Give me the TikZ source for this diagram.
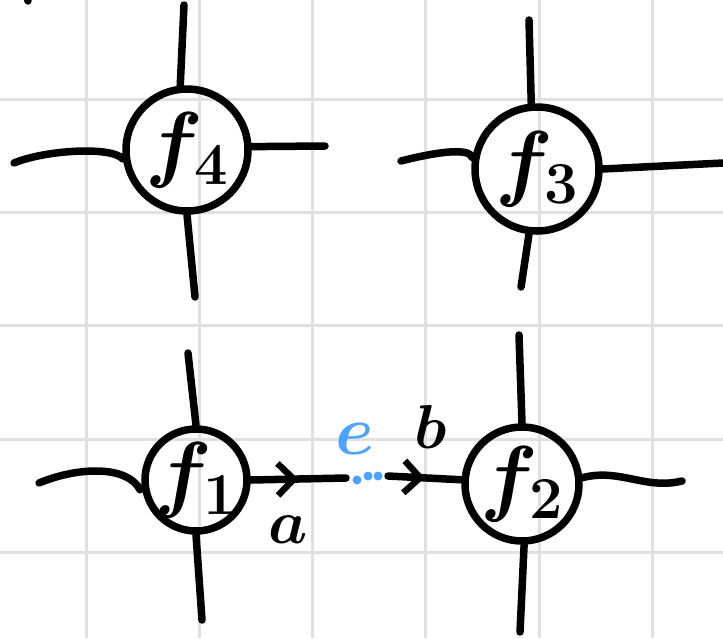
\RequirePackage{fix-cm}
\documentclass[tikz,border=0pt]{standalone}
\usepackage{xcolor}
\usepackage{amsmath, amssymb}
\usepackage{tikz}
\usetikzlibrary{arrows.meta, decorations.markings}

\definecolor{gridgray}{RGB}{224,224,224}
\definecolor{penblue}{RGB}{77,163,255}

\tikzset{
  gridline/.style={gridgray, line width=3pt},
  leg/.style={line width=7.5pt, line cap=round, line join=round},
  vertex/.style={circle, draw, line width=7.5pt, inner sep=-8pt, font=\fontsize{85}{85}\selectfont\boldmath},
  midarrow/.style={postaction={decorate}, decoration={markings, mark=at position #1 with {\arrow[line width=6.5pt]{Straight Barb[length=16pt, width=32pt]}}}},
  edgelabel/.style={font=\fontsize{62}{62}\selectfont\boldmath},
}

\begin{document}
\begin{tikzpicture}[x=1pt, y=-1pt]
\useasboundingbox (0,0) rectangle (723,638);

% Grid paper
\draw[gridline] (86.2,0) -- (86.2,638);
\draw[gridline] (199.4,0) -- (199.4,638);
\draw[gridline] (312.6,0) -- (312.6,638);
\draw[gridline] (425.8,0) -- (425.8,638);
\draw[gridline] (539,0) -- (539,638);
\draw[gridline] (652.2,0) -- (652.2,638);
\draw[gridline] (0,99.3) -- (723,99.3);
\draw[gridline] (0,212.6) -- (723,212.6);
\draw[gridline] (0,325.9) -- (723,325.9);
\draw[gridline] (0,439.2) -- (723,439.2);
\draw[gridline] (0,552.5) -- (723,552.5);

% stray pen mark
\draw[leg] (27,-4) -- (28,1);

% Tensor f4 (top left)
\node[vertex, minimum size=122pt] (f4) at (187,150) {$f_4$};
\coordinate (f4top) at (184,5);
\coordinate (f4left) at (14,163);
\coordinate (f4right) at (325,146);
\coordinate (f4bottom) at (195,297);
\draw[leg] (f4top) -- (f4.96);
\draw[leg] (f4left) .. controls (45,150) and (112,146) .. (f4.188);
\draw[leg] (f4.3) -- (f4right);
\draw[leg] (f4.south) -- (f4bottom);

% Tensor f3 (top right)
\node[vertex, minimum size=124pt] (f3) at (537,169) {$f_3$};
\coordinate (f3top) at (529,20);
\coordinate (f3left) at (401,161);
\coordinate (f3right) at (723,163);
\coordinate (f3bottom) at (521,287);
\draw[leg] (f3top) -- (f3.95);
\draw[leg] (f3left) .. controls (440,151) and (470,148) .. (f3.170);
\draw[leg] (f3.east) -- (f3right);
\draw[leg] (f3.263) -- (f3bottom);

% Tensor f1 (bottom left)
\node[vertex, minimum size=102pt] (f1) at (196,480) {$f_1$};
\coordinate (f1top) at (188,353);
\coordinate (f1left) at (39,483);
\coordinate (f1gap) at (346,478);
\coordinate (f1bottom) at (202,620);
\draw[leg] (f1top) -- (f1.north);
\draw[leg, shorten >=10pt] (f1left) .. controls (80,466) and (128,466) .. (f1.200);
\draw[leg, midarrow=0.5] (f1.east) -- (f1gap);
\draw[leg] (f1.south) -- (f1bottom);

% Tensor f2 (bottom right)
\node[vertex, minimum size=114pt] (f2) at (522,484) {$f_2$};
\coordinate (f2top) at (519,335);
\coordinate (f2gap) at (388,476);
\coordinate (f2right) at (682,481);
\coordinate (f2bottom) at (520,632);
\draw[leg] (f2top) -- (f2.north);
\draw[leg, midarrow=0.5] (f2gap) -- (f2.176);
\draw[leg] (f2.6) .. controls (620,468) and (645,490) .. (f2right);
\draw[leg] (f2.272) -- (f2bottom);

% Edge e between f1 and f2
\fill[penblue] (357,480) circle (4.5pt);
\fill[penblue] (368,476) circle (4.5pt);
\fill[penblue] (378,476) circle (4.5pt);

\node[edgelabel] (lbla) at (288,530) {$a$};
\node[edgelabel] (lblb) at (431,427) {$b$};
\node[edgelabel, penblue, font=\fontsize{70}{70}\selectfont\boldmath] (lble) at (355,439) {$e$};

\end{tikzpicture}
\end{document}
